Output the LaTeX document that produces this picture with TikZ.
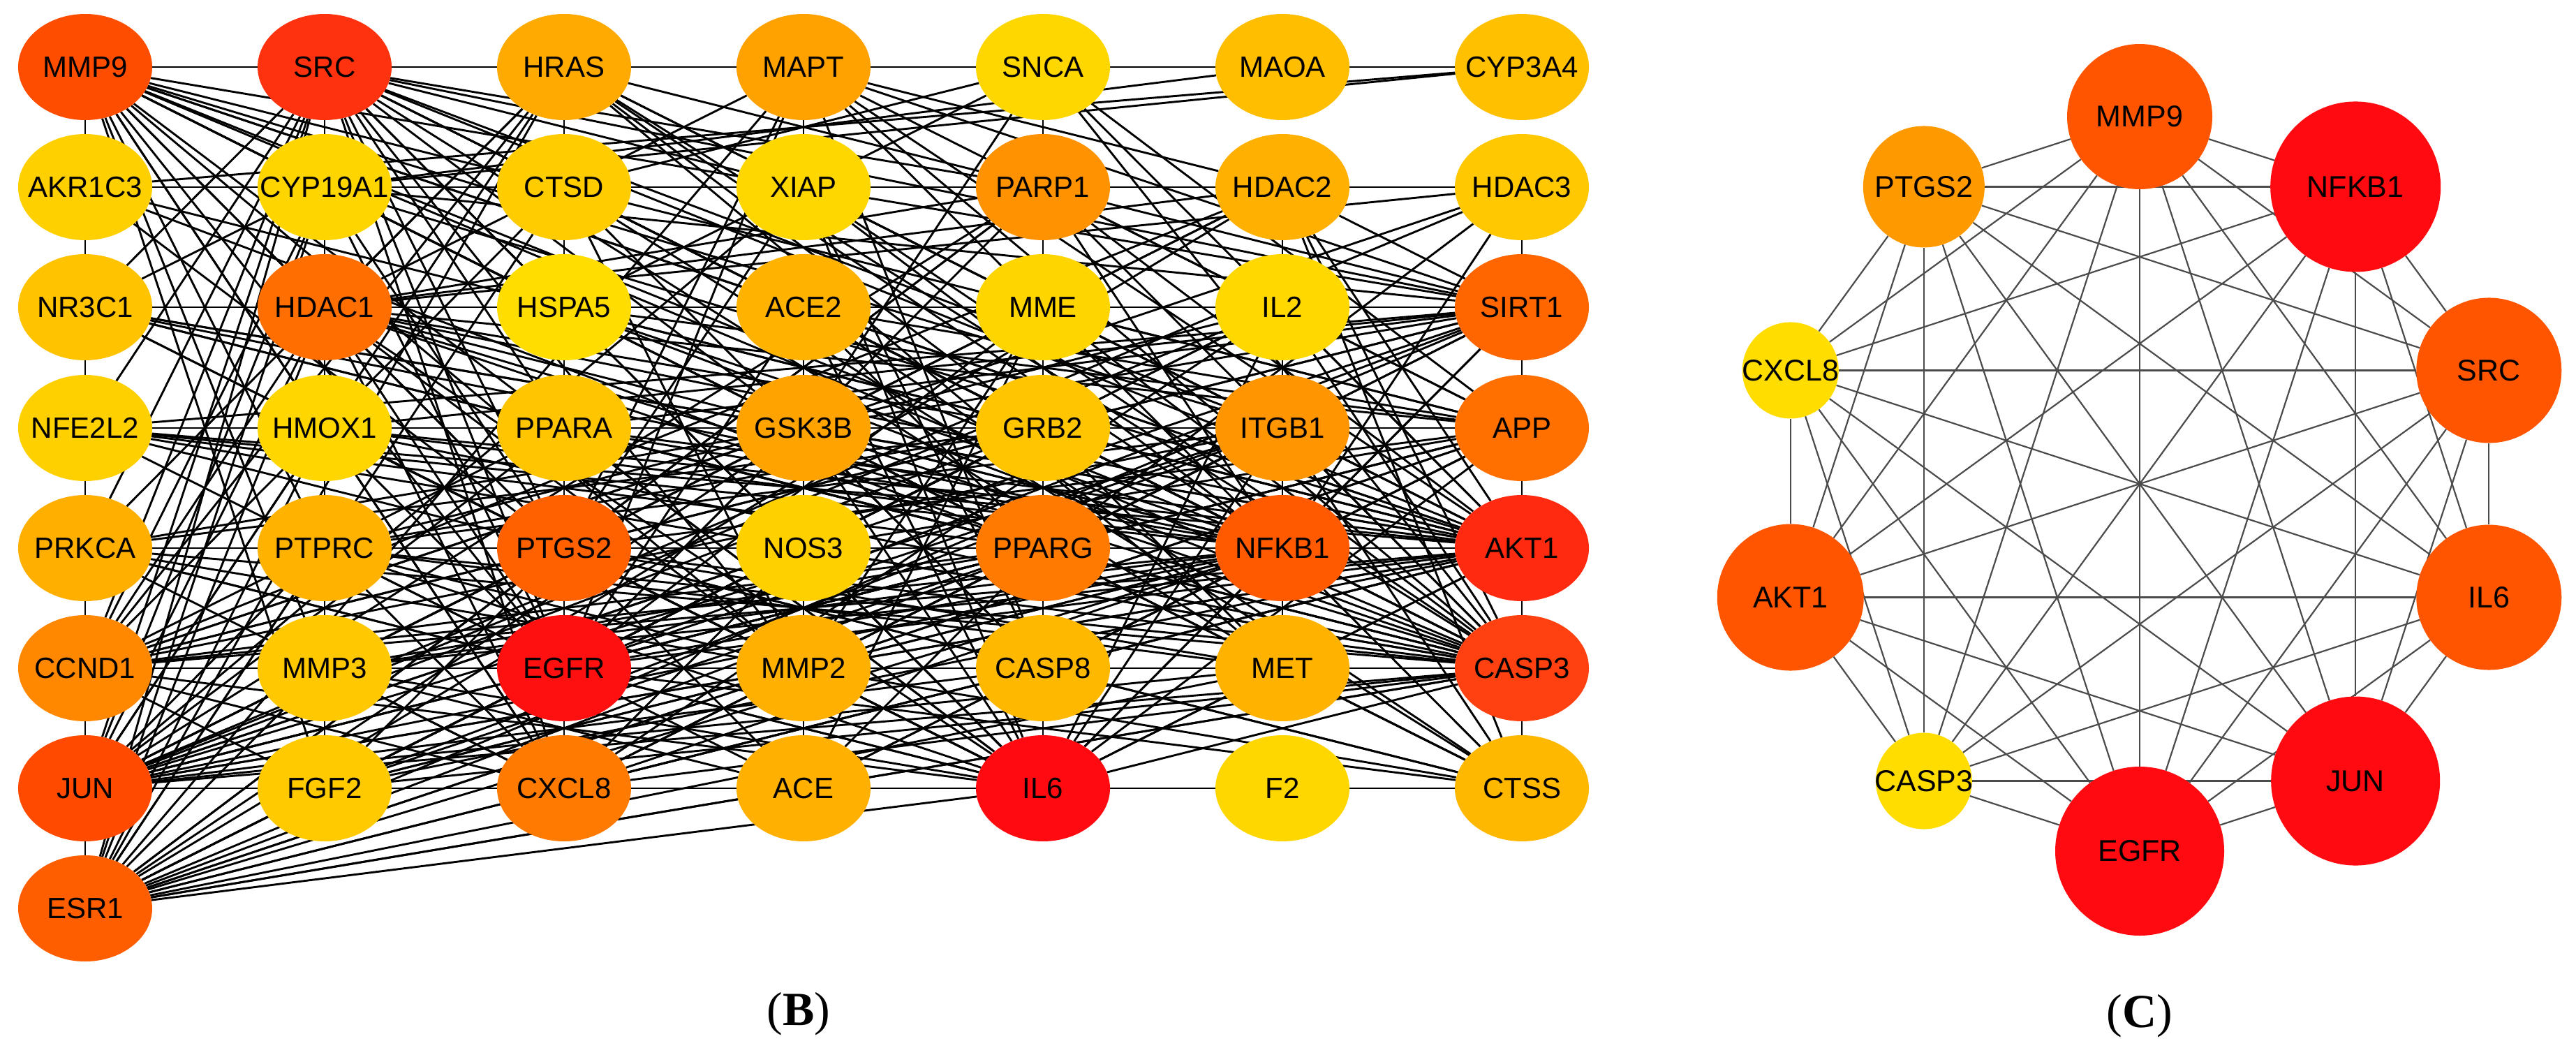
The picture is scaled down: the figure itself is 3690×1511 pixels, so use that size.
\documentclass[tikz,border=0pt]{standalone}
\usepackage{fontspec}
\setmainfont{Liberation Serif}
\newfontfamily\arialf{Liberation Sans}
\usetikzlibrary{shapes.geometric}
\pgfdeclarelayer{bglayer}
\pgfdeclarelayer{edges}
\pgfsetlayers{bglayer,edges,main}
\tikzset{
  bnode/.style={ellipse, draw=none, minimum width=192pt, minimum height=152pt, inner sep=0pt},
  blabel/.style={font=\arialf\fontsize{42}{42}\selectfont, text=black, inner sep=0pt},
  cnode/.style={circle, draw=none, inner sep=0pt},
  clabel/.style={font=\arialf\fontsize{43}{43}\selectfont, text=black, inner sep=0pt},
  bedge/.style={draw=black, line width=2.9pt},
  cedge/.style={draw={rgb,255:red,75;green,75;blue,75}, line width=2.2pt},
  panellabel/.style={font=\fontsize{68}{68}\selectfont, text=black, inner sep=0pt}
}
\newcommand\gnode[4]{%
  \definecolor{tmpfill}{HTML}{#4}%
  \node[bnode, fill=tmpfill] (#1) at (#2,#3) {};
  \node[blabel] at (#1) {#1};}
\newcommand\hubnode[4]{%
  \definecolor{tmpfill}{HTML}{#4}%
  \node[cnode, fill=tmpfill, minimum size={2*#3pt}] (c#1) at ({3065+526*cos(#2)},{693-526*sin(#2)}) {};
  \node[clabel] at (c#1) {#1};}
\begin{document}
\begin{tikzpicture}[x=1pt,y=-1pt]
\useasboundingbox (0,0) rectangle (3690,1511);
\begin{pgfonlayer}{bglayer}
\fill[white] (0,0) rectangle (3690,1511);
\end{pgfonlayer}
% ---------- panel B nodes ----------
\gnode{MMP9}{122}{96}{FF4D00}
\gnode{SRC}{465}{96}{FF3210}
\gnode{HRAS}{808}{96}{FFAA00}
\gnode{MAPT}{1151}{96}{FFA200}
\gnode{SNCA}{1494}{96}{FFD700}
\gnode{MAOA}{1837}{96}{FFBE00}
\gnode{CYP3A4}{2180}{96}{FFC000}
\gnode{AKR1C3}{122}{268}{FFD000}
\gnode{CYP19A1}{465}{268}{FFD500}
\gnode{CTSD}{808}{268}{FFCC00}
\gnode{XIAP}{1151}{268}{FFD700}
\gnode{PARP1}{1494}{268}{FF9200}
\gnode{HDAC2}{1837}{268}{FFB000}
\gnode{HDAC3}{2180}{268}{FFC800}
\gnode{NR3C1}{122}{440}{FFC300}
\gnode{HDAC1}{465}{440}{FF6E00}
\gnode{HSPA5}{808}{440}{FFDD00}
\gnode{ACE2}{1151}{440}{FFB200}
\gnode{MME}{1494}{440}{FFD500}
\gnode{IL2}{1837}{440}{FFD800}
\gnode{SIRT1}{2180}{440}{FF6600}
\gnode{NFE2L2}{122}{613}{FFD000}
\gnode{HMOX1}{465}{613}{FFD600}
\gnode{PPARA}{808}{613}{FFC500}
\gnode{GSK3B}{1151}{613}{FFA300}
\gnode{GRB2}{1494}{613}{FFC500}
\gnode{ITGB1}{1837}{613}{FF9500}
\gnode{APP}{2180}{613}{FF7000}
\gnode{PRKCA}{122}{785}{FFAF00}
\gnode{PTPRC}{465}{785}{FFB200}
\gnode{PTGS2}{808}{785}{FF6000}
\gnode{NOS3}{1151}{785}{FFD000}
\gnode{PPARG}{1494}{785}{FF7A00}
\gnode{NFKB1}{1837}{785}{FF5A00}
\gnode{AKT1}{2180}{785}{FF2A10}
\gnode{CCND1}{122}{957}{FF8800}
\gnode{MMP3}{465}{957}{FFC800}
\gnode{EGFR}{808}{957}{FF1010}
\gnode{MMP2}{1151}{957}{FFB000}
\gnode{CASP8}{1494}{957}{FFB800}
\gnode{MET}{1837}{957}{FFB200}
\gnode{CASP3}{2180}{957}{FF4010}
\gnode{JUN}{122}{1129}{FF4A00}
\gnode{FGF2}{465}{1129}{FFCA00}
\gnode{CXCL8}{808}{1129}{FF7A00}
\gnode{ACE}{1151}{1129}{FFB000}
\gnode{IL6}{1494}{1129}{FF0A10}
\gnode{F2}{1837}{1129}{FFD700}
\gnode{CTSS}{2180}{1129}{FFB800}
\gnode{ESR1}{122}{1301}{FF5E00}
% ---------- panel B edges ----------
\begin{pgfonlayer}{edges}
\foreach \a/\b in {
MMP9/SRC,MMP9/AKR1C3,MMP9/CYP19A1,MMP9/HDAC1,MMP9/HMOX1,MMP9/PTPRC,MMP9/MMP3,MMP9/FGF2,MMP9/CXCL8,MMP9/EGFR,MMP9/PTGS2,MMP9/CTSD,MMP9/HSPA5,MMP9/ACE2,MMP9/GSK3B,MMP9/MMP2,MMP9/IL6,MMP9/PPARG,MMP9/NFKB1,MMP9/AKT1,MMP9/CASP3,MMP9/ITGB1,MMP9/SIRT1,
SRC/HRAS,SRC/HDAC1,SRC/NR3C1,SRC/NFE2L2,SRC/PRKCA,SRC/CCND1,SRC/JUN,SRC/ESR1,SRC/HSPA5,SRC/PPARA,SRC/GSK3B,SRC/XIAP,SRC/PTGS2,SRC/EGFR,SRC/PTPRC,SRC/MMP3,SRC/MMP2,SRC/GRB2,SRC/ITGB1,SRC/MET,SRC/PARP1,SRC/NFKB1,SRC/AKT1,SRC/CASP3,SRC/IL6,SRC/SIRT1,SRC/CXCL8,SRC/FGF2,
HRAS/MAPT,HRAS/CTSD,HRAS/JUN,HRAS/ESR1,HRAS/CCND1,HRAS/PRKCA,HRAS/GRB2,HRAS/ITGB1,HRAS/MET,HRAS/AKT1,HRAS/NFKB1,HRAS/CASP3,HRAS/PARP1,HRAS/HDAC1,
MAPT/SNCA,MAPT/XIAP,MAPT/APP,MAPT/AKT1,MAPT/CASP3,MAPT/SIRT1,MAPT/CASP8,MAPT/HDAC1,MAPT/PTGS2,MAPT/NFKB1,MAPT/HDAC2,MAPT/EGFR,MAPT/ESR1,
SNCA/MAOA,SNCA/CTSD,SNCA/APP,SNCA/GSK3B,SNCA/CASP3,SNCA/IL6,SNCA/PARP1,SNCA/HSPA5,SNCA/AKT1,
MAOA/CYP3A4,MAOA/CYP19A1,CYP3A4/AKR1C3,CYP3A4/CYP19A1,
AKR1C3/CYP19A1,AKR1C3/NR3C1,AKR1C3/PTGS2,AKR1C3/NFE2L2,AKR1C3/ESR1,AKR1C3/PPARG,AKR1C3/CTSD,AKR1C3/AKT1,
CYP19A1/CTSD,CYP19A1/ESR1,CYP19A1/PTGS2,CYP19A1/PPARG,CYP19A1/AKT1,CYP19A1/JUN,CYP19A1/CCND1,CYP19A1/SIRT1,CYP19A1/EGFR,CYP19A1/NR3C1,
CTSD/XIAP,CTSD/APP,CTSD/CASP3,CTSD/CASP8,CTSD/ESR1,CTSD/CCND1,CTSD/EGFR,CTSD/CTSS,CTSD/HSPA5,CTSD/MMP2,
XIAP/PARP1,XIAP/CASP3,XIAP/CASP8,XIAP/AKT1,XIAP/NFKB1,XIAP/PTGS2,XIAP/IL6,XIAP/JUN,
PARP1/HDAC2,PARP1/MME,PARP1/SIRT1,PARP1/NFKB1,PARP1/CASP3,PARP1/CASP8,PARP1/AKT1,PARP1/HDAC1,PARP1/JUN,PARP1/EGFR,PARP1/PPARG,PARP1/IL6,PARP1/APP,PARP1/ESR1,PARP1/PTGS2,
HDAC2/HDAC3,HDAC2/IL2,HDAC2/HDAC1,HDAC2/SIRT1,HDAC2/NFKB1,HDAC2/JUN,HDAC2/CCND1,HDAC2/AKT1,HDAC2/CASP3,HDAC2/ESR1,HDAC2/GSK3B,HDAC2/CTSS,
HDAC3/SIRT1,HDAC3/HDAC1,HDAC3/NFKB1,HDAC3/PPARG,HDAC3/CASP3,HDAC3/APP,HDAC3/JUN,HDAC3/CCND1,
NR3C1/NFE2L2,NR3C1/HDAC1,NR3C1/JUN,NR3C1/NFKB1,NR3C1/ESR1,NR3C1/AKT1,NR3C1/PPARG,NR3C1/IL6,NR3C1/CCND1,NR3C1/CASP3,NR3C1/PTGS2,NR3C1/GSK3B,
HDAC1/HSPA5,HDAC1/SIRT1,HDAC1/NFKB1,HDAC1/JUN,HDAC1/ESR1,HDAC1/CCND1,HDAC1/AKT1,HDAC1/EGFR,HDAC1/PPARG,HDAC1/CASP3,HDAC1/IL6,HDAC1/PTGS2,HDAC1/APP,HDAC1/MMP2,HDAC1/GRB2,HDAC1/CXCL8,
HSPA5/ACE2,HSPA5/PPARA,HSPA5/APP,HSPA5/CASP3,HSPA5/AKT1,HSPA5/IL6,HSPA5/SIRT1,HSPA5/NFKB1,HSPA5/EGFR,
ACE2/MME,ACE2/ACE,ACE2/AKT1,ACE2/IL6,ACE2/CTSS,ACE2/APP,ACE2/PPARG,ACE2/NFKB1,ACE2/NOS3,ACE2/EGFR,
MME/IL2,MME/GRB2,MME/APP,MME/ACE,MME/CASP3,MME/EGFR,MME/MMP2,
IL2/ITGB1,IL2/SIRT1,IL2/IL6,IL2/NFKB1,IL2/JUN,IL2/PTPRC,IL2/CXCL8,IL2/AKT1,IL2/EGFR,IL2/CASP3,IL2/FGF2,
SIRT1/APP,SIRT1/NFKB1,SIRT1/PPARG,SIRT1/JUN,SIRT1/ESR1,SIRT1/CCND1,SIRT1/CASP3,SIRT1/IL6,SIRT1/PTGS2,SIRT1/EGFR,SIRT1/HMOX1,SIRT1/NFE2L2,SIRT1/GSK3B,SIRT1/PPARA,SIRT1/MMP2,SIRT1/CTSS,
NFE2L2/PRKCA,NFE2L2/HMOX1,NFE2L2/AKT1,NFE2L2/PTGS2,NFE2L2/NFKB1,NFE2L2/ESR1,NFE2L2/CASP3,NFE2L2/GSK3B,NFE2L2/PPARG,NFE2L2/EGFR,
HMOX1/PPARA,HMOX1/AKT1,HMOX1/NFKB1,HMOX1/IL6,HMOX1/PTGS2,HMOX1/EGFR,HMOX1/CASP3,HMOX1/JUN,HMOX1/APP,HMOX1/CXCL8,HMOX1/ESR1,
PPARA/GSK3B,PPARA/PPARG,PPARA/NFKB1,PPARA/AKT1,PPARA/PTGS2,PPARA/CCND1,PPARA/JUN,PPARA/IL6,PPARA/APP,PPARA/CASP3,
GSK3B/GRB2,GSK3B/APP,GSK3B/AKT1,GSK3B/CCND1,GSK3B/JUN,GSK3B/CASP3,GSK3B/NFKB1,GSK3B/PPARG,GSK3B/EGFR,GSK3B/ESR1,GSK3B/PRKCA,GSK3B/ITGB1,GSK3B/IL6,GSK3B/CASP8,GSK3B/CTSS,GSK3B/MET,
GRB2/ITGB1,GRB2/EGFR,GRB2/MET,GRB2/AKT1,GRB2/PTPRC,GRB2/FGF2,GRB2/ESR1,GRB2/IL6,GRB2/PPARG,GRB2/NFKB1,GRB2/CASP3,GRB2/PRKCA,GRB2/JUN,
ITGB1/APP,ITGB1/NFKB1,ITGB1/MET,ITGB1/EGFR,ITGB1/AKT1,ITGB1/MMP2,ITGB1/PTPRC,ITGB1/FGF2,ITGB1/IL6,ITGB1/CASP3,ITGB1/CTSS,ITGB1/JUN,ITGB1/CCND1,ITGB1/CXCL8,
APP/AKT1,APP/CASP3,APP/CTSS,APP/ACE,APP/ESR1,APP/CASP8,APP/EGFR,APP/NOS3,APP/PPARG,APP/IL6,APP/MMP2,APP/JUN,APP/NFKB1,APP/PTGS2,
PRKCA/CCND1,PRKCA/PTPRC,PRKCA/EGFR,PRKCA/AKT1,PRKCA/NFKB1,PRKCA/ESR1,PRKCA/NOS3,PRKCA/PPARG,PRKCA/IL6,PRKCA/CASP3,PRKCA/PTGS2,PRKCA/MMP2,PRKCA/CXCL8,
PTPRC/PTGS2,PTPRC/IL6,PTPRC/JUN,PTPRC/EGFR,PTPRC/NFKB1,PTPRC/CXCL8,PTPRC/AKT1,PTPRC/CASP3,PTPRC/MMP2,PTPRC/FGF2,PTPRC/MET,PTPRC/ESR1,PTPRC/MMP3,
PTGS2/NOS3,PTGS2/EGFR,PTGS2/IL6,PTGS2/CXCL8,PTGS2/NFKB1,PTGS2/AKT1,PTGS2/CASP3,PTGS2/MMP2,PTGS2/MMP3,PTGS2/JUN,PTGS2/ESR1,PTGS2/CCND1,PTGS2/PPARG,PTGS2/CASP8,PTGS2/ACE,PTGS2/FGF2,PTGS2/MET,PTGS2/CTSS,
NOS3/PPARG,NOS3/AKT1,NOS3/IL6,NOS3/ACE,NOS3/EGFR,NOS3/ESR1,NOS3/CASP3,NOS3/NFKB1,NOS3/CXCL8,NOS3/MMP2,NOS3/JUN,
PPARG/NFKB1,PPARG/CASP8,PPARG/AKT1,PPARG/IL6,PPARG/JUN,PPARG/ESR1,PPARG/CCND1,PPARG/EGFR,PPARG/CXCL8,PPARG/CASP3,PPARG/MMP2,PPARG/MMP3,PPARG/ACE,PPARG/CTSS,PPARG/FGF2,
NFKB1/AKT1,NFKB1/MET,NFKB1/IL6,NFKB1/CXCL8,NFKB1/JUN,NFKB1/EGFR,NFKB1/CASP3,NFKB1/CASP8,NFKB1/ESR1,NFKB1/CCND1,NFKB1/MMP3,NFKB1/MMP2,NFKB1/FGF2,NFKB1/CTSS,NFKB1/ACE,
AKT1/CASP3,AKT1/EGFR,AKT1/JUN,AKT1/ESR1,AKT1/CCND1,AKT1/IL6,AKT1/CASP8,AKT1/MET,AKT1/MMP2,AKT1/FGF2,AKT1/CXCL8,AKT1/MMP3,AKT1/CTSS,
CCND1/JUN,CCND1/MMP3,CCND1/EGFR,CCND1/ESR1,CCND1/CASP3,CCND1/IL6,CCND1/MET,CCND1/MMP2,CCND1/CXCL8,CCND1/CASP8,CCND1/FGF2,
MMP3/EGFR,MMP3/MMP2,MMP3/IL6,MMP3/CXCL8,MMP3/FGF2,MMP3/JUN,MMP3/CASP3,MMP3/ESR1,MMP3/ACE,
EGFR/MMP2,EGFR/CXCL8,EGFR/MET,EGFR/JUN,EGFR/ESR1,EGFR/IL6,EGFR/CASP3,EGFR/CASP8,EGFR/FGF2,EGFR/ACE,EGFR/CTSS,
MMP2/CASP8,MMP2/ACE,MMP2/IL6,MMP2/CASP3,MMP2/MET,MMP2/FGF2,MMP2/ESR1,MMP2/CXCL8,MMP2/JUN,MMP2/CTSS,
CASP8/MET,CASP8/IL6,CASP8/CASP3,CASP8/JUN,CASP8/CTSS,CASP8/CXCL8,
MET/CASP3,MET/IL6,MET/JUN,MET/CTSS,MET/ESR1,
CASP3/CTSS,CASP3/JUN,CASP3/ESR1,CASP3/IL6,CASP3/CXCL8,CASP3/FGF2,CASP3/ACE,
JUN/FGF2,JUN/ESR1,JUN/IL6,JUN/CXCL8,JUN/ACE,
FGF2/CXCL8,FGF2/ESR1,FGF2/IL6,CXCL8/ACE,CXCL8/IL6,CXCL8/ESR1,
ACE/IL6,ACE/ESR1,IL6/F2,IL6/CTSS,IL6/ESR1,F2/CTSS}
  {\draw[bedge] (\a) -- (\b);}
\end{pgfonlayer}
% ---------- panel C ----------
\hubnode{MMP9}{90}{104}{FF5500}
\hubnode{NFKB1}{54}{122}{FF0A10}
\hubnode{SRC}{18}{104}{FF5500}
\hubnode{IL6}{-18}{104}{FF5500}
\hubnode{JUN}{-54}{121}{FF0A10}
\hubnode{EGFR}{-90}{121}{FF0A10}
\hubnode{CASP3}{-126}{69}{FFDD00}
\hubnode{AKT1}{-162}{105}{FF5500}
\hubnode{CXCL8}{162}{69}{FFDD00}
\hubnode{PTGS2}{126}{87}{FF9900}
\begin{pgfonlayer}{edges}
\foreach \a [count=\i] in {MMP9,NFKB1,SRC,IL6,JUN,EGFR,CASP3,AKT1,CXCL8,PTGS2}{
  \foreach \b [count=\j] in {MMP9,NFKB1,SRC,IL6,JUN,EGFR,CASP3,AKT1,CXCL8,PTGS2}{
    \ifnum\j>\i \draw[cedge] (c\a) -- (c\b); \fi
  }
}
\end{pgfonlayer}
% ---------- panel labels ----------
\node[panellabel] (labB) at (1144,1452) {(\textbf{B})};
\node[panellabel] (labC) at (3065,1455) {(\textbf{C})};
\end{tikzpicture}
\end{document}
